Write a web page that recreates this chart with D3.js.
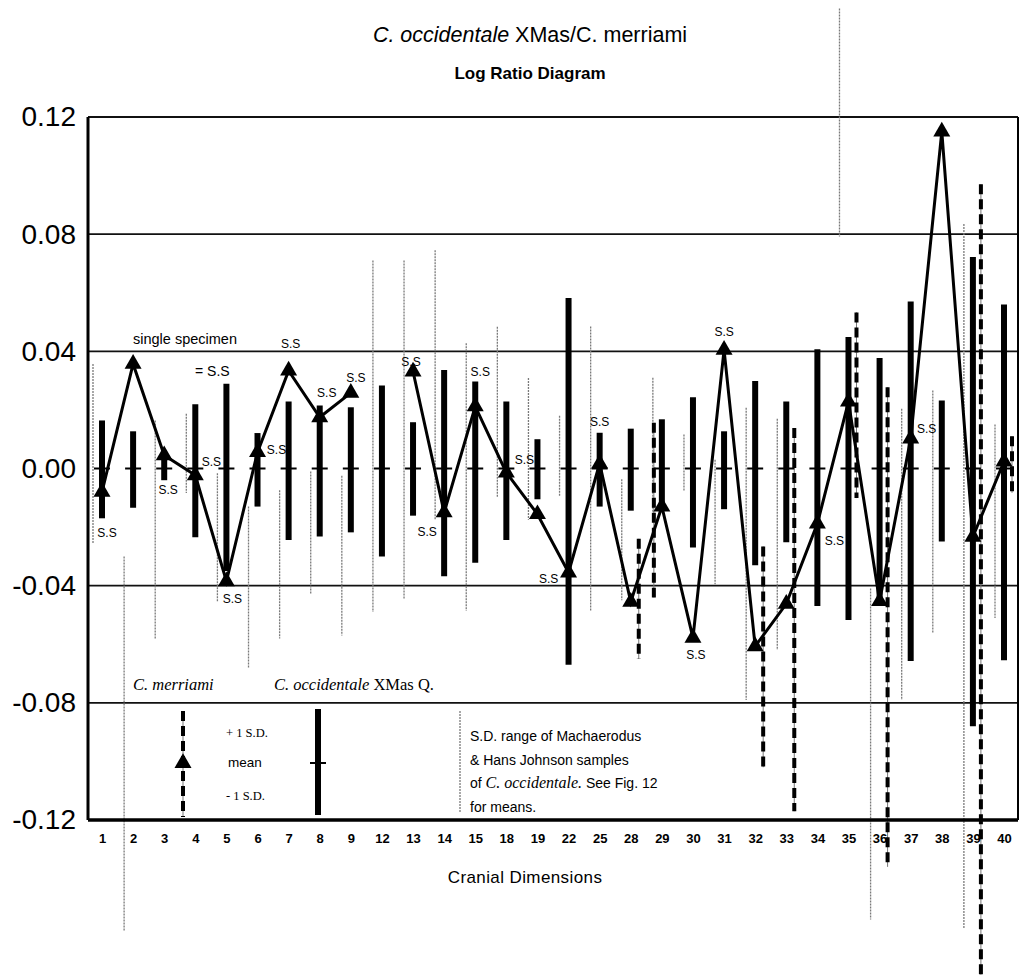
<!DOCTYPE html>
<html>
<head>
<meta charset="utf-8">
<script src="https://cdn.jsdelivr.net/npm/d3@7"></script>
<style>
  body { margin: 0; background: #fff; }
  svg { display: block; }
</style>
</head>
<body>
<div id="chart"></div>
<script>
// cranial dimension numbers on the x axis
const categories = [1, 2, 3, 4, 5, 6, 7, 8, 9, 12, 13, 14, 15, 18, 19, 22, 25, 28, 29, 30, 31, 32, 33, 34, 35, 36, 37, 38, 39, 40];

// C. merriami mean (triangles); null = no value
const merriamiMean = [-0.008, 0.0357, 0.0045, -0.0023, -0.0385, 0.0056, 0.0334, 0.0175, 0.0258, null,
  0.0331, -0.015, 0.0212, -0.0014, -0.0156, -0.0355, 0.0017, -0.0455, -0.013, -0.0578,
  0.0405, -0.0607, -0.0462, -0.0188, 0.0228, -0.0453, 0.0102, 0.115, -0.0233, 0.0024];

// C. occidentale XMas Q. +1 / -1 S.D. (thick bars, mean at 0)
const xmasHigh = [0.0164, 0.0127, 0.003, 0.0219, 0.0289, 0.0121, 0.0229, 0.0215, 0.0209, 0.0283,
  0.0158, 0.0336, 0.0297, 0.0229, 0.010, 0.0582, 0.0122, 0.0136, 0.0168, 0.0243,
  0.0127, 0.0299, 0.0229, 0.0407, 0.0449, 0.0377, 0.057, 0.0232, 0.0722, 0.056];
const xmasLow = [-0.017, -0.0134, -0.004, -0.0235, -0.035, -0.013, -0.0244, -0.0232, -0.0218, -0.030,
  -0.0161, -0.0368, -0.0322, -0.0244, -0.0105, -0.067, -0.013, -0.0144, -0.014, -0.027,
  -0.0139, -0.033, -0.0252, -0.0469, -0.0517, -0.0453, -0.0657, -0.0249, -0.088, -0.0655];

// S.D. range of Machaerodus & Hans Johnson samples (thin grey lines)
const sampleHigh = [0.0357, -0.030, 0.0164, 0.0187, -0.0016, -0.013, -0.0074, -0.001, -0.0025, 0.071,
  0.071, 0.0745, 0.0428, 0.0484, 0.0309, 0.018, 0.0485, -0.0037, 0.031, 0.0116,
  0.003, 0.0207, 0.017, null, 0.157, -0.041, 0.0204, 0.0266, 0.0835, 0.015];
const sampleLow = [-0.0255, -0.158, -0.058, -0.0084, -0.0457, -0.068, -0.058, -0.043, -0.057, -0.049,
  -0.0445, -0.0175, -0.0486, -0.0099, -0.0175, -0.0093, -0.0485, -0.045, -0.015, -0.0077,
  -0.0395, -0.079, -0.062, null, 0.079, -0.154, -0.079, -0.0561, -0.157, -0.051];

// C. merriami +1 / -1 S.D. where more than one specimen (dashed)
const merriamiSdCats = [28, 29, 32, 33, 35, 36, 39, 40];
const merriamiSdHigh = [-0.024, 0.0156, -0.0266, 0.0138, 0.0533, 0.0277, 0.097, 0.011];
const merriamiSdLow = [-0.065, -0.044, -0.102, -0.117, -0.0101, -0.136, -0.1728, -0.0083];

// single specimen means, with label offset (px) from the triangle
const singleSpecimen = [1, 3, 4, 5, 6, 7, 8, 9, 13, 14, 15, 18, 22, 25, 30, 31, 34, 37];
const ssLabelOffsets = {
  1: [5, 45], 3: [4, 39], 4: [16, -9], 5: [6, 22], 6: [19, 2], 7: [2, -23], 8: [7, -20],
  9: [5, -11], 13: [-2, -6], 14: [-17, 24], 15: [5, -30], 18: [18, -9], 22: [-20, 11],
  25: [0, -38], 30: [3, 21], 31: [0, -14], 34: [17, 21], 37: [16, -6]
};
// the dashed S.D. bar sits left of the XMas bar for these dimensions
const dashOnLeft = [29];

const yTicks = [-0.12, -0.08, -0.04, 0, 0.04, 0.08, 0.12];
const gridValues = [-0.08, -0.04, 0.04, 0.08, 0.12];

const width = 1022, height = 977;
const plotLeft = 88, plotRight = 1018, plotTop = 117, plotBottom = 820;
const sans = "'Liberation Sans', Arial, sans-serif";
const serif = "'Liberation Serif', 'Times New Roman', serif";

const svg = d3.select("#chart").append("svg")
  .attr("width", width).attr("height", height)
  .style("font-family", sans);

const x = d3.scalePoint().domain(categories).range([plotLeft, plotRight]).padding(0.45);
const y = d3.scaleLinear().domain([-0.12, 0.12]).range([plotBottom, plotTop]);

const rows = categories.map((c, i) => ({
  cat: c, mean: merriamiMean[i], hi: xmasHigh[i], lo: xmasLow[i], sHi: sampleHigh[i], sLo: sampleLow[i]
}));
const sdRows = merriamiSdCats.map((c, i) => ({ cat: c, hi: merriamiSdHigh[i], lo: merriamiSdLow[i] }));

// titles
svg.append("text").attr("x", 530).attr("y", 42).attr("text-anchor", "middle")
  .attr("font-size", 21.5)
  .call(t => {
    t.append("tspan").attr("font-style", "italic").text("C. occidentale");
    t.append("tspan").text(" XMas/C. merriami");
  });
svg.append("text").attr("x", 530).attr("y", 79).attr("text-anchor", "middle")
  .attr("font-size", 17).attr("font-weight", "bold").text("Log Ratio Diagram");

// horizontal rules
svg.append("g").selectAll("line").data(gridValues).join("line")
  .attr("x1", plotLeft).attr("x2", plotRight)
  .attr("y1", d => y(d)).attr("y2", d => y(d))
  .attr("stroke", "#111").attr("stroke-width", 1.8);

// thin grey sample ranges
const thinOffset = -9;
svg.append("g").selectAll("line").data(rows.filter(d => d.sHi != null)).join("line")
  .attr("x1", d => x(d.cat) + thinOffset).attr("x2", d => x(d.cat) + thinOffset)
  .attr("y1", d => y(d.sHi)).attr("y2", d => y(d.sLo))
  .attr("stroke", "#7a7a7a").attr("stroke-width", 1.3).attr("stroke-dasharray", "2 1");

// dashed merriami S.D.
const dashX = d => x(d.cat) + (dashOnLeft.includes(d.cat) ? -8 : 8);
const sd = svg.append("g").selectAll("g").data(sdRows).join("g");
sd.append("line")
  .attr("x1", dashX).attr("x2", dashX)
  .attr("y1", d => y(d.hi)).attr("y2", d => y(d.lo))
  .attr("stroke", "#777").attr("stroke-width", 1);
sd.append("line")
  .attr("x1", dashX).attr("x2", dashX)
  .attr("y1", d => y(d.hi)).attr("y2", d => y(d.lo))
  .attr("stroke", "#000").attr("stroke-width", 4).attr("stroke-dasharray", "10 5");

// thick XMas bars and mean ticks
svg.append("g").selectAll("line").data(rows).join("line")
  .attr("x1", d => x(d.cat)).attr("x2", d => x(d.cat))
  .attr("y1", d => y(d.hi)).attr("y2", d => y(d.lo))
  .attr("stroke", "#000").attr("stroke-width", 6);
svg.append("g").selectAll("line").data(rows).join("line")
  .attr("x1", d => x(d.cat) - 8).attr("x2", d => x(d.cat) + 8)
  .attr("y1", y(0)).attr("y2", y(0))
  .attr("stroke", "#000").attr("stroke-width", 2);

// frame
svg.append("line").attr("x1", plotLeft).attr("x2", plotLeft).attr("y1", plotTop).attr("y2", plotBottom)
  .attr("stroke", "#000").attr("stroke-width", 3);
svg.append("line").attr("x1", plotRight).attr("x2", plotRight).attr("y1", plotTop).attr("y2", plotBottom)
  .attr("stroke", "#000").attr("stroke-width", 2);
svg.append("line").attr("x1", plotLeft).attr("x2", plotRight).attr("y1", plotBottom).attr("y2", plotBottom)
  .attr("stroke", "#000").attr("stroke-width", 3.5);

// merriami mean line + triangles
const line = d3.line().defined(d => d.mean != null).x(d => x(d.cat)).y(d => y(d.mean));
svg.append("path").datum(rows).attr("d", line)
  .attr("fill", "none").attr("stroke", "#000").attr("stroke-width", 3).attr("stroke-linejoin", "miter");
svg.append("g").selectAll("path").data(rows.filter(d => d.mean != null)).join("path")
  .attr("transform", d => `translate(${x(d.cat)},${y(d.mean)})`)
  .attr("d", d3.symbol(d3.symbolTriangle, 125))
  .attr("fill", "#000");

// single specimen labels
svg.append("g").selectAll("text").data(singleSpecimen).join("text")
  .attr("x", c => x(c) + ssLabelOffsets[c][0])
  .attr("y", c => y(merriamiMean[categories.indexOf(c)]) + ssLabelOffsets[c][1])
  .attr("text-anchor", "middle").attr("font-size", 12).text("S.S");

// axes
const yAxis = svg.append("g").attr("transform", `translate(${plotLeft},0)`)
  .call(d3.axisLeft(y).tickValues(yTicks).tickSize(0).tickPadding(12).tickFormat(d => d.toFixed(2)));
yAxis.select(".domain").remove();
yAxis.selectAll("text").attr("font-size", 28).attr("font-family", sans).attr("fill", "#000");

const xAxis = svg.append("g").attr("transform", `translate(0,${plotBottom})`)
  .call(d3.axisBottom(x).tickSize(0).tickPadding(14));
xAxis.select(".domain").remove();
xAxis.selectAll("text").attr("font-size", 13).attr("font-weight", "bold")
  .attr("font-family", sans).attr("fill", "#000");

svg.append("text").attr("x", 525).attr("y", 883).attr("text-anchor", "middle")
  .attr("font-size", 17).attr("letter-spacing", 0.4).text("Cranial Dimensions");

// annotations
svg.append("text").attr("x", 133).attr("y", 344).attr("font-size", 14.5).text("single specimen");
svg.append("text").attr("x", 195).attr("y", 376).attr("font-size", 14).text("=  S.S");

// legend
svg.append("text").attr("x", 133).attr("y", 690).attr("font-size", 16.5)
  .attr("font-family", serif).attr("font-style", "italic").text("C. merriami");
svg.append("text").attr("x", 274).attr("y", 690).attr("font-size", 16.5).attr("font-family", serif)
  .call(t => {
    t.append("tspan").attr("font-style", "italic").text("C. occidentale");
    t.append("tspan").text(" XMas Q.");
  });

const lg = svg.append("g");
lg.append("line").attr("x1", 183).attr("x2", 183).attr("y1", 711).attr("y2", 817)
  .attr("stroke", "#777").attr("stroke-width", 1);
lg.append("line").attr("x1", 183).attr("x2", 183).attr("y1", 711).attr("y2", 817)
  .attr("stroke", "#000").attr("stroke-width", 4).attr("stroke-dasharray", "10 5");
lg.append("path").attr("transform", "translate(183,763)")
  .attr("d", d3.symbol(d3.symbolTriangle, 125)).attr("fill", "#000");
lg.append("text").attr("x", 226).attr("y", 737).attr("font-size", 12.5).attr("font-family", serif).text("+ 1 S.D.");
lg.append("text").attr("x", 228).attr("y", 767).attr("font-size", 13.5).text("mean");
lg.append("text").attr("x", 226).attr("y", 800).attr("font-size", 12.5).attr("font-family", serif).text("-  1 S.D.");
lg.append("line").attr("x1", 318).attr("x2", 318).attr("y1", 709).attr("y2", 815)
  .attr("stroke", "#000").attr("stroke-width", 6);
lg.append("line").attr("x1", 310).attr("x2", 326).attr("y1", 763).attr("y2", 763)
  .attr("stroke", "#000").attr("stroke-width", 2);
lg.append("line").attr("x1", 460).attr("x2", 460).attr("y1", 711).attr("y2", 812)
  .attr("stroke", "#7a7a7a").attr("stroke-width", 1.3).attr("stroke-dasharray", "2 1");

const noteLines = [
  ["S.D. range of Machaerodus"],
  ["& Hans Johnson samples"],
  ["of ", "C. occidentale.", "  See Fig. 12"],
  ["for means."]
];
noteLines.forEach((parts, i) => {
  const t = lg.append("text").attr("x", 470).attr("y", 741 + i * 23.5).attr("font-size", 14);
  parts.forEach((p, j) => {
    const s = t.append("tspan").text(p);
    if (parts.length > 1 && j === 1) s.attr("font-family", serif).attr("font-style", "italic").attr("font-size", 16);
  });
});
</script>
</body>
</html>
